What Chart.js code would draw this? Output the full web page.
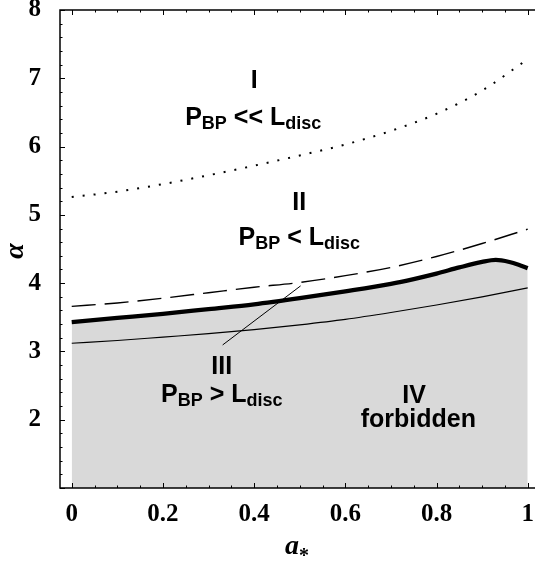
<!DOCTYPE html>
<html>
<head>
<meta charset="utf-8">
<script src="https://cdn.jsdelivr.net/npm/chart.js@4.4.1/dist/chart.umd.min.js"></script>
<style>
html, body { margin: 0; padding: 0; background: #fff; }
</style>
</head>
<body>
<canvas id="chart" width="535" height="563"></canvas>
<script>
// spin values a* (x) and alpha values (y)
const spin = [0, 0.1, 0.2, 0.3, 0.4, 0.5, 0.6, 0.7, 0.8, 0.9, 1.0];
const dottedAlpha = [5.26, 5.34, 5.45, 5.58, 5.72, 5.87, 6.03, 6.23, 6.48, 6.82, 7.28];
const dashedAlpha = [3.66, 3.71, 3.78, 3.86, 3.94, 4.01, 4.11, 4.23, 4.39, 4.58, 4.79];
const thinAlpha = [3.12, 3.16, 3.21, 3.26, 3.32, 3.39, 3.47, 3.57, 3.68, 3.80, 3.93];

const spinThick = [0, 0.1, 0.2, 0.3, 0.4, 0.5, 0.6, 0.7, 0.75, 0.8, 0.85, 0.9, 0.93, 0.96, 0.98, 1.0];
const thickAlpha = [3.43, 3.49, 3.55, 3.62, 3.69, 3.78, 3.88, 3.99, 4.06, 4.14, 4.23, 4.31, 4.34, 4.31, 4.27, 4.22];

// pointer from label III up to the curves
const pointerSpin = [0.331, 0.502];
const pointerAlpha = [3.095, 3.96];

const xTickVals = [0, 0.2, 0.4, 0.6, 0.8, 1];
const yTickVals = [2, 3, 4, 5, 6, 7, 8];

const pts = (xs, ys) => xs.map((x, i) => ({ x: x, y: ys[i] }));

// region labels: [a*, alpha baseline, parts]
const regionText = [
    [0.400, 6.853, [['I', 0]]],
    [0.398, 6.312, [['P', 0], ['BP', 1], [' << ', 0], ['L', 0], ['disc', 1]]],
    [0.499, 5.071, [['II', 0]]],
    [0.499, 4.554, [['P', 0], ['BP', 1], [' < ', 0], ['L', 0], ['disc', 1]]],
    [0.329, 2.670, [['III', 0]]],
    [0.329, 2.264, [['P', 0], ['BP', 1], [' > ', 0], ['L', 0], ['disc', 1]]],
    [0.751, 2.250, [['IV', 0]]],
    [0.760, 1.898, [['forbidden', 0]]]
];

const bigFont = 'bold 25px "Liberation Sans"';
const subFont = 'bold 18px "Liberation Sans"';

const decor = {
    id: 'decor',
    afterDraw(chart) {
        const ctx = chart.ctx;
        const xs = chart.scales.x, ys = chart.scales.y;
        const area = chart.chartArea;
        ctx.save();
        ctx.fillStyle = '#000';
        ctx.textBaseline = 'alphabetic';
        ctx.textAlign = 'left';
        regionText.forEach(([a, al, parts]) => {
            const cx = xs.getPixelForValue(a), cy = ys.getPixelForValue(al);
            const widths = parts.map(([t, s]) => { ctx.font = s ? subFont : bigFont; return ctx.measureText(t).width; });
            let x = cx - widths.reduce((p, q) => p + q, 0) / 2;
            parts.forEach(([t, s], i) => {
                ctx.font = s ? subFont : bigFont;
                ctx.fillText(t, x, cy + (s ? 4 : 0));
                x += widths[i];
            });
        });

        // frame: left, bottom, top
        ctx.strokeStyle = '#000';
        ctx.lineWidth = 1.5;
        ctx.beginPath();
        ctx.moveTo(area.right, area.top);
        ctx.lineTo(area.left, area.top);
        ctx.lineTo(area.left, area.bottom);
        ctx.lineTo(area.right, area.bottom);
        ctx.stroke();

        // inward ticks
        ctx.lineWidth = 1;
        ctx.beginPath();
        for (let k = 0; k <= 20; k++) {
            const v = k * 0.05;
            const px = Math.round(xs.getPixelForValue(v)) + 0.5;
            const len = (k % 4 === 0) ? 5 : 2.5;
            ctx.moveTo(px, area.bottom); ctx.lineTo(px, area.bottom - len);
            ctx.moveTo(px, area.top); ctx.lineTo(px, area.top + len);
        }
        for (let k = 5; k <= 40; k++) {
            const v = k * 0.2;
            const py = Math.round(ys.getPixelForValue(v)) + 0.5;
            const len = (k % 5 === 0) ? 5 : 2.5;
            ctx.moveTo(area.left, py); ctx.lineTo(area.left + len, py);
        }
        ctx.stroke();

        // axis titles
        ctx.font = 'bold italic 28px "Liberation Serif"';
        ctx.textAlign = 'center';
        ctx.textBaseline = 'middle';
        ctx.save();
        ctx.translate(16, (area.top + area.bottom) / 2 + 2);
        ctx.rotate(-Math.PI / 2);
        ctx.fillText('α', 0, 0);
        ctx.restore();

        ctx.textAlign = 'left';
        ctx.textBaseline = 'alphabetic';
        ctx.font = 'bold italic 28px "Liberation Serif"';
        ctx.fillText('a', 285, 554);
        const aw = ctx.measureText('a').width;
        ctx.font = 'bold 20px "Liberation Serif"';
        ctx.fillText('*', 285 + aw, 562);
        ctx.restore();
    }
};

const tickFont = { family: '"Liberation Serif"', weight: 'bold', size: 25 };

new Chart(document.getElementById('chart'), {
    type: 'line',
    data: {
        datasets: [
            { label: 'boundary', data: pts(spinThick, thickAlpha), borderColor: '#000', borderWidth: 4.3,
              fill: 'start', backgroundColor: '#d9d9d9', cubicInterpolationMode: 'monotone' },
            { label: 'thin', data: pts(spin, thinAlpha), borderColor: '#000', borderWidth: 1.2,
              fill: false, cubicInterpolationMode: 'monotone' },
            { label: 'dashed', data: pts(spin, dashedAlpha), borderColor: '#000', borderWidth: 1.4,
              borderDash: [24, 9], fill: false, cubicInterpolationMode: 'monotone' },
            { label: 'dotted', data: pts(spin, dottedAlpha), borderColor: '#000', borderWidth: 2,
              borderDash: [2, 9], fill: false, cubicInterpolationMode: 'monotone' },
            { label: 'pointer', data: pts(pointerSpin, pointerAlpha), borderColor: '#000', borderWidth: 1,
              fill: false, tension: 0 }
        ]
    },
    options: {
        responsive: false,
        animation: false,
        devicePixelRatio: 1,
        layout: { padding: { top: 10, left: 0, right: 0, bottom: 0 } },
        elements: { point: { radius: 0 } },
        plugins: {
            legend: { display: false },
            tooltip: { enabled: false },
            filler: { drawTime: 'beforeDatasetsDraw' }
        },
        scales: {
            x: {
                type: 'linear', min: -0.0257, max: 1.016,
                grid: { display: false }, border: { display: false },
                ticks: { font: tickFont, color: '#000', padding: 4, maxRotation: 0, autoSkip: false,
                         callback: v => String(v) },
                afterBuildTicks: s => { s.ticks = xTickVals.map(v => ({ value: v })); },
                afterFit: s => { s.height = 75; s.paddingLeft = 0; s.paddingRight = 0; }
            },
            y: {
                type: 'linear', min: 1, max: 8,
                grid: { display: false }, border: { display: false },
                ticks: { font: tickFont, color: '#000', padding: 11, autoSkip: false,
                         callback: v => String(v) },
                afterBuildTicks: s => { s.ticks = yTickVals.map(v => ({ value: v })); },
                afterFit: s => { s.width = 60; s.paddingTop = 0; s.paddingBottom = 0; }
            }
        }
    },
    plugins: [decor]
});
</script>
</body>
</html>
